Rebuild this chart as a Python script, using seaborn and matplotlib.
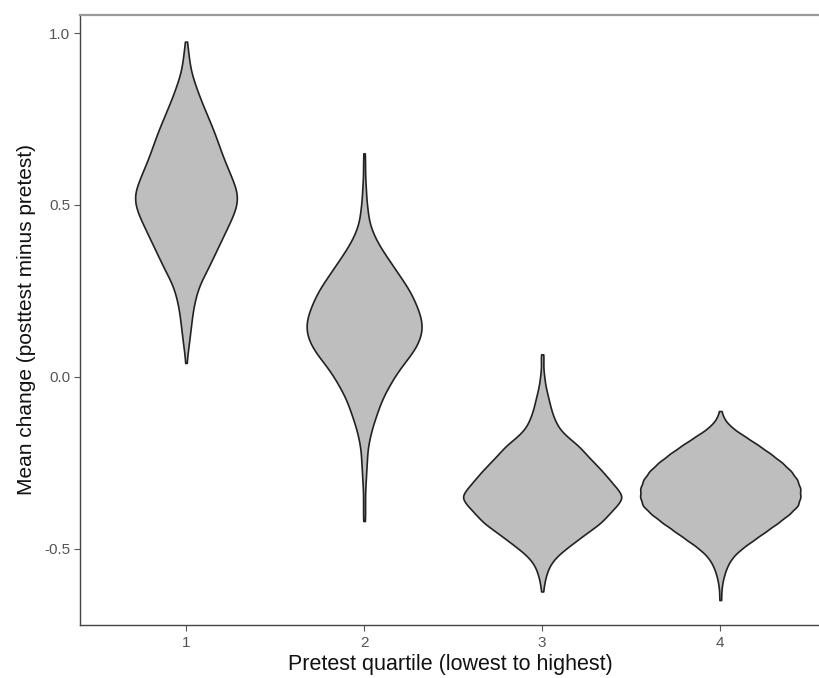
import matplotlib
matplotlib.use("Agg")
import matplotlib.pyplot as plt
import seaborn as sns
import numpy as np
import pandas as pd

# Mean change values (binned) and how many students fall in each bin, per quartile
q1_change = [0.040, 0.075, 0.100, 0.125, 0.150, 0.175, 0.200, 0.225, 0.250, 0.275,
             0.300, 0.325, 0.350, 0.375, 0.400, 0.425, 0.450, 0.475, 0.500, 0.525,
             0.550, 0.575, 0.600, 0.625, 0.650, 0.675, 0.700, 0.725, 0.750, 0.775,
             0.800, 0.825, 0.850, 0.875, 0.900, 0.925, 0.950, 0.975]
q1_count = [1, 2, 3, 4, 5, 6, 7, 9, 11, 14,
            19, 23, 27, 31, 35, 39, 43, 47, 50, 51,
            49, 45, 42, 38, 35, 32, 29, 26, 22, 19,
            15, 12, 9, 6, 4, 3, 2, 1]

q2_change = [-0.420, -0.400, -0.375, -0.350, -0.325, -0.300, -0.275, -0.250, -0.225, -0.200,
             -0.175, -0.150, -0.125, -0.100, -0.075, -0.050, -0.025, 0.000, 0.025, 0.050,
             0.075, 0.100, 0.125, 0.150, 0.175, 0.200, 0.225, 0.250, 0.275, 0.300,
             0.325, 0.350, 0.375, 0.400, 0.425, 0.450, 0.475, 0.500, 0.525, 0.550,
             0.575, 0.600, 0.625, 0.650]
q2_count = [1, 1, 1, 1, 1, 2, 2, 3, 3, 4,
            6, 8, 11, 14, 17, 21, 26, 31, 37, 44,
            51, 56, 59, 60, 58, 55, 51, 47, 41, 35,
            29, 23, 17, 12, 8, 5, 4, 3, 2, 2,
            1, 1, 1, 1]

q3_change = [-0.625, -0.600, -0.575, -0.550, -0.525, -0.500, -0.475, -0.450, -0.425, -0.400,
             -0.375, -0.350, -0.325, -0.300, -0.275, -0.250, -0.225, -0.200, -0.175, -0.150,
             -0.125, -0.100, -0.075, -0.050, -0.025, 0.000, 0.025, 0.050, 0.065]
q3_count = [1, 2, 4, 7, 13, 23, 34, 45, 57, 64,
            72, 79, 72, 65, 58, 50, 42, 35, 24, 16,
            12, 9, 7, 5, 3, 2, 1, 1, 1]

q4_change = [-0.650, -0.625, -0.600, -0.575, -0.550, -0.525, -0.500, -0.475, -0.450, -0.425,
             -0.400, -0.375, -0.350, -0.325, -0.300, -0.275, -0.250, -0.225, -0.200, -0.175,
             -0.150, -0.125, -0.100]
q4_count = [1, 1, 2, 4, 7, 12, 21, 33, 45, 57,
            68, 77, 79, 79, 76, 70, 61, 50, 38, 25,
            12, 4, 1]

quartiles = ["1", "2", "3", "4"]
y_ticks = [-0.5, 0.0, 0.5, 1.0]
y_tick_labels = ["-0.5", "0.0", "0.5", "1.0"]

# Expand the binned counts into one row per student
frames = []
for q, vals, cnts in zip(quartiles,
                         [q1_change, q2_change, q3_change, q4_change],
                         [q1_count, q2_count, q3_count, q4_count]):
    frames.append(pd.DataFrame({"quartile": q, "change": np.repeat(vals, cnts)}))
df = pd.concat(frames, ignore_index=True)

sns.set_style("white")
plt.rcParams["font.family"] = ["Liberation Sans", "DejaVu Sans"]
plt.rcParams["axes.unicode_minus"] = False

fig = plt.figure(figsize=(8.2, 6.78), dpi=100)
ax = fig.add_axes([0.0976, 0.0782, 0.9024, 0.8997])

sns.violinplot(data=df, x="quartile", y="change", order=quartiles,
               color="#BEBEBE", saturation=1, linecolor="#222222", linewidth=1.2,
               inner=None, cut=0, density_norm="area", width=0.9,
               bw_method=0.15, ax=ax)

ax.set_xlim(-0.595, 3.56)
ax.set_ylim(-0.7225, 1.0525)
ax.set_yticks(y_ticks)
ax.set_yticklabels(y_tick_labels)

ax.set_xlabel("Pretest quartile (lowest to highest)", fontsize=15.5, color="#111111", labelpad=3)
ax.set_ylabel("Mean change (posttest minus pretest)", fontsize=15, color="#111111", labelpad=6)
ax.tick_params(axis="both", labelsize=11, labelcolor="#555555", color="#555555",
               length=4, width=0.8, direction="out", pad=3)
ax.tick_params(axis="x", bottom=True, pad=4)
ax.tick_params(axis="y", left=True)

for side in ["left", "bottom"]:
    ax.spines[side].set_color("#444444")
    ax.spines[side].set_linewidth(1.0)
ax.spines["top"].set_color("#999999")
ax.spines["top"].set_linewidth(1.6)
ax.spines["right"].set_visible(False)

fig.savefig("out.png", dpi=100, facecolor="white")
